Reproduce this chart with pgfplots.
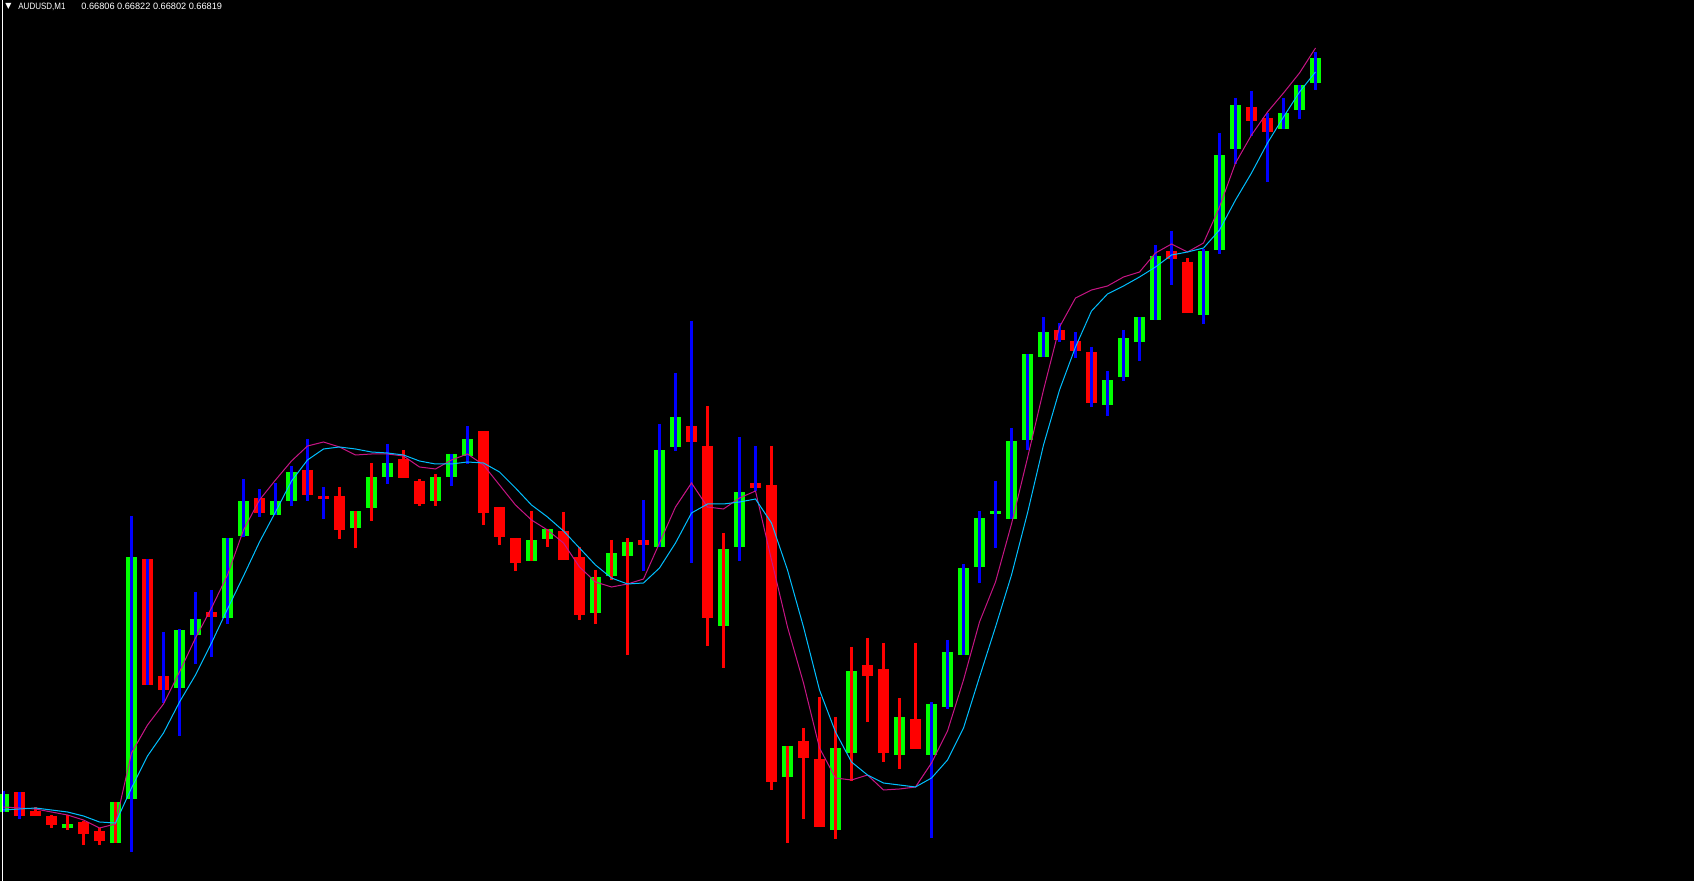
\documentclass[border=0pt]{standalone}
\usepackage{fontspec}
\setmainfont{Liberation Sans}
\newfontfamily\dejavu{DejaVu Sans}
\usepackage{pgfplots}
\pgfplotsset{compat=1.18}
\definecolor{up}{RGB}{0,255,0}
\definecolor{dn}{RGB}{255,0,0}
\definecolor{wb}{RGB}{0,0,255}
\definecolor{mafast}{RGB}{199,21,133}
\definecolor{maslow}{RGB}{0,191,255}
% \candle{index}{open}{high}{low}{close}{body colour}{wick colour}
% values are chart rows (pixels from the top of the chart)
\newcommand\candle[7]{%
  \addplot[draw=#6, line width=5.5pt, line cap=butt, mark=none] coordinates {(#1,#2) (#1,#5)};
  \addplot[draw=#7, line width=1.5pt, line cap=butt, mark=none] coordinates {(#1,#3) (#1,#4)};
}
\begin{document}
\begin{tikzpicture}
\begin{axis}[
  width=847pt, height=440.5pt, scale only axis,
  xmin=-0.21875, xmax=105.65625, ymin=0, ymax=881, y dir=reverse,
  axis line style={draw=none}, ticks=none,
  axis background/.style={fill=black},
]
\candle{0}{812}{791}{812}{794}{up}{wb}
\candle{1}{792}{792}{819}{816}{dn}{wb}
\candle{2}{811}{807}{816}{816}{dn}{dn}
\candle{3}{816}{815}{828}{825}{dn}{dn}
\candle{4}{828}{815}{830}{824}{up}{dn}
\candle{5}{822}{821}{845}{834}{dn}{dn}
\candle{6}{831}{828}{845}{841}{dn}{dn}
\candle{7}{843}{802}{843}{802}{up}{dn}
\candle{8}{799}{516}{852}{557}{up}{wb}
\candle{9}{559}{559}{685}{685}{dn}{wb}
\candle{10}{676}{632}{703}{690}{dn}{wb}
\candle{11}{688}{629}{736}{630}{up}{wb}
\candle{12}{635}{592}{664}{619}{up}{wb}
\candle{13}{612}{590}{657}{617}{dn}{wb}
\candle{14}{618}{538}{624}{538}{up}{wb}
\candle{15}{536}{479}{537}{501}{up}{wb}
\candle{16}{498}{489}{517}{513}{dn}{wb}
\candle{17}{515}{483}{515}{501}{up}{wb}
\candle{18}{501}{466}{506}{472}{up}{wb}
\candle{19}{470}{439}{501}{495}{dn}{wb}
\candle{20}{496}{487}{519}{499}{dn}{wb}
\candle{21}{496}{487}{539}{530}{dn}{dn}
\candle{22}{528}{511}{548}{511}{up}{dn}
\candle{23}{508}{463}{521}{477}{up}{dn}
\candle{24}{477}{444}{484}{463}{up}{wb}
\candle{25}{459}{450}{478}{478}{dn}{dn}
\candle{26}{481}{479}{506}{504}{dn}{dn}
\candle{27}{501}{474}{506}{477}{up}{dn}
\candle{28}{477}{454}{486}{454}{up}{wb}
\candle{29}{456}{426}{464}{439}{up}{wb}
\candle{30}{431}{431}{525}{513}{dn}{dn}
\candle{31}{507}{507}{545}{537}{dn}{dn}
\candle{32}{538}{538}{571}{563}{dn}{dn}
\candle{33}{561}{511}{561}{540}{up}{dn}
\candle{34}{539}{529}{547}{529}{up}{dn}
\candle{35}{531}{512}{560}{560}{dn}{dn}
\candle{36}{557}{547}{620}{615}{dn}{dn}
\candle{37}{613}{570}{624}{577}{up}{dn}
\candle{38}{576}{540}{580}{553}{up}{dn}
\candle{39}{556}{538}{655}{542}{up}{dn}
\candle{40}{540}{500}{571}{545}{dn}{wb}
\candle{41}{547}{424}{547}{450}{up}{wb}
\candle{42}{447}{373}{451}{417}{up}{wb}
\candle{43}{426}{321}{563}{442}{dn}{wb}
\candle{44}{446}{406}{646}{618}{dn}{dn}
\candle{45}{626}{533}{668}{549}{up}{dn}
\candle{46}{547}{437}{561}{492}{up}{wb}
\candle{47}{483}{446}{491}{488}{dn}{wb}
\candle{48}{485}{446}{790}{782}{dn}{dn}
\candle{49}{777}{746}{843}{746}{up}{dn}
\candle{50}{741}{728}{819}{758}{dn}{dn}
\candle{51}{759}{697}{827}{827}{dn}{dn}
\candle{52}{830}{717}{839}{748}{up}{dn}
\candle{53}{753}{647}{781}{671}{up}{dn}
\candle{54}{665}{638}{722}{676}{dn}{dn}
\candle{55}{669}{643}{762}{753}{dn}{dn}
\candle{56}{755}{698}{769}{717}{up}{dn}
\candle{57}{719}{643}{749}{749}{dn}{dn}
\candle{58}{755}{702}{838}{704}{up}{wb}
\candle{59}{707}{640}{709}{652}{up}{wb}
\candle{60}{655}{564}{655}{568}{up}{wb}
\candle{61}{567}{511}{583}{518}{up}{wb}
\candle{62}{514}{481}{548}{511}{up}{wb}
\candle{63}{519}{428}{519}{441}{up}{wb}
\candle{64}{440}{354}{450}{354}{up}{wb}
\candle{65}{357}{317}{357}{332}{up}{wb}
\candle{66}{330}{323}{342}{340}{dn}{wb}
\candle{67}{341}{332}{358}{351}{dn}{wb}
\candle{68}{352}{347}{407}{403}{dn}{wb}
\candle{69}{405}{371}{416}{380}{up}{wb}
\candle{70}{377}{330}{381}{338}{up}{wb}
\candle{71}{342}{317}{361}{317}{up}{wb}
\candle{72}{320}{245}{320}{256}{up}{wb}
\candle{73}{251}{231}{285}{259}{dn}{wb}
\candle{74}{262}{258}{313}{313}{dn}{dn}
\candle{75}{315}{249}{324}{251}{up}{wb}
\candle{76}{250}{133}{254}{155}{up}{wb}
\candle{77}{149}{98}{164}{105}{up}{wb}
\candle{78}{107}{91}{136}{121}{dn}{wb}
\candle{79}{118}{113}{182}{132}{dn}{wb}
\candle{80}{129}{98}{129}{113}{up}{wb}
\candle{81}{110}{85}{119}{85}{up}{wb}
\candle{82}{83}{52}{90}{58}{up}{wb}
% fast moving average (magenta)
\addplot[draw=mafast, line width=0.5pt, mark=none] coordinates {
(0,807) (1,808) (2,809) (3,812) (4,815) (5,820) (6,828) (7,824) (8,753) (9,725)
(10,704) (11,672) (12,638) (13,608) (14,575) (15,530) (16,500) (17,480) (18,461) (19,446)
(20,442) (21,447) (22,455) (23,454) (24,454) (25,456) (26,467) (27,469) (28,460) (29,454)
(30,465) (31,485) (32,505) (33,520) (34,530) (35,543) (36,567) (37,582) (38,587) (39,584)
(40,579) (41,543) (42,507) (43,483) (44,507) (45,509) (46,498) (47,491) (48,560) (49,627)
(50,683) (51,748) (52,778) (53,780) (54,775) (55,790) (56,789) (57,787) (58,763) (59,731)
(60,680) (61,622) (62,582) (63,524) (64,458) (65,390) (66,327) (67,298) (68,290) (69,286)
(70,277) (71,272) (72,253) (73,244) (74,252) (75,243) (76,207) (77,163) (78,135) (79,112)
(80,93) (81,73) (82,48)};
% slow moving average (sky blue)
\addplot[draw=maslow, line width=0.5pt, mark=none] coordinates {
(0,810) (1,809) (2,808) (3,810) (4,812) (5,816) (6,822) (7,823) (8,788) (9,756)
(10,733) (11,702) (12,675) (13,643) (14,609) (15,576) (16,542) (17,512) (18,481) (19,460)
(20,449) (21,447) (22,449) (23,452) (24,453) (25,455) (26,461) (27,464) (28,464) (29,462)
(30,463) (31,472) (32,488) (33,505) (34,517) (35,531) (36,548) (37,565) (38,578) (39,584)
(40,583) (41,568) (42,543) (43,513) (44,504) (45,504) (46,502) (47,499) (48,523) (49,570)
(50,627) (51,690) (52,732) (53,762) (54,775) (55,783) (56,785) (57,787) (58,778) (59,760)
(60,728) (61,677) (62,627) (63,575) (64,513) (65,445) (66,390) (67,347) (68,311) (69,294)
(70,286) (71,277) (72,267) (73,255) (74,252) (75,248) (76,230) (77,200) (78,173) (79,143)
(80,117) (81,92) (82,72)};
\draw[white, line width=0.5pt] (axis cs:-0.0625,0) -- (axis cs:-0.0625,881);
\node[anchor=base west, inner sep=0pt, text=white, font=\dejavu\fontsize{4pt}{4pt}\selectfont] at (axis cs:0.09375,8.5) {▼};
\node[anchor=base west, inner sep=0pt, text=white, font=\fontsize{4.6pt}{5pt}\selectfont] at (axis cs:0.906,9.5) {\scalebox{0.87}[1]{AUDUSD,M1}};
\node[anchor=base west, inner sep=0pt, text=white, font=\fontsize{4.6pt}{5pt}\selectfont] at (axis cs:4.84375,9.5) {0.66806 0.66822 0.66802 0.66819};
\end{axis}
\end{tikzpicture}
\end{document}
